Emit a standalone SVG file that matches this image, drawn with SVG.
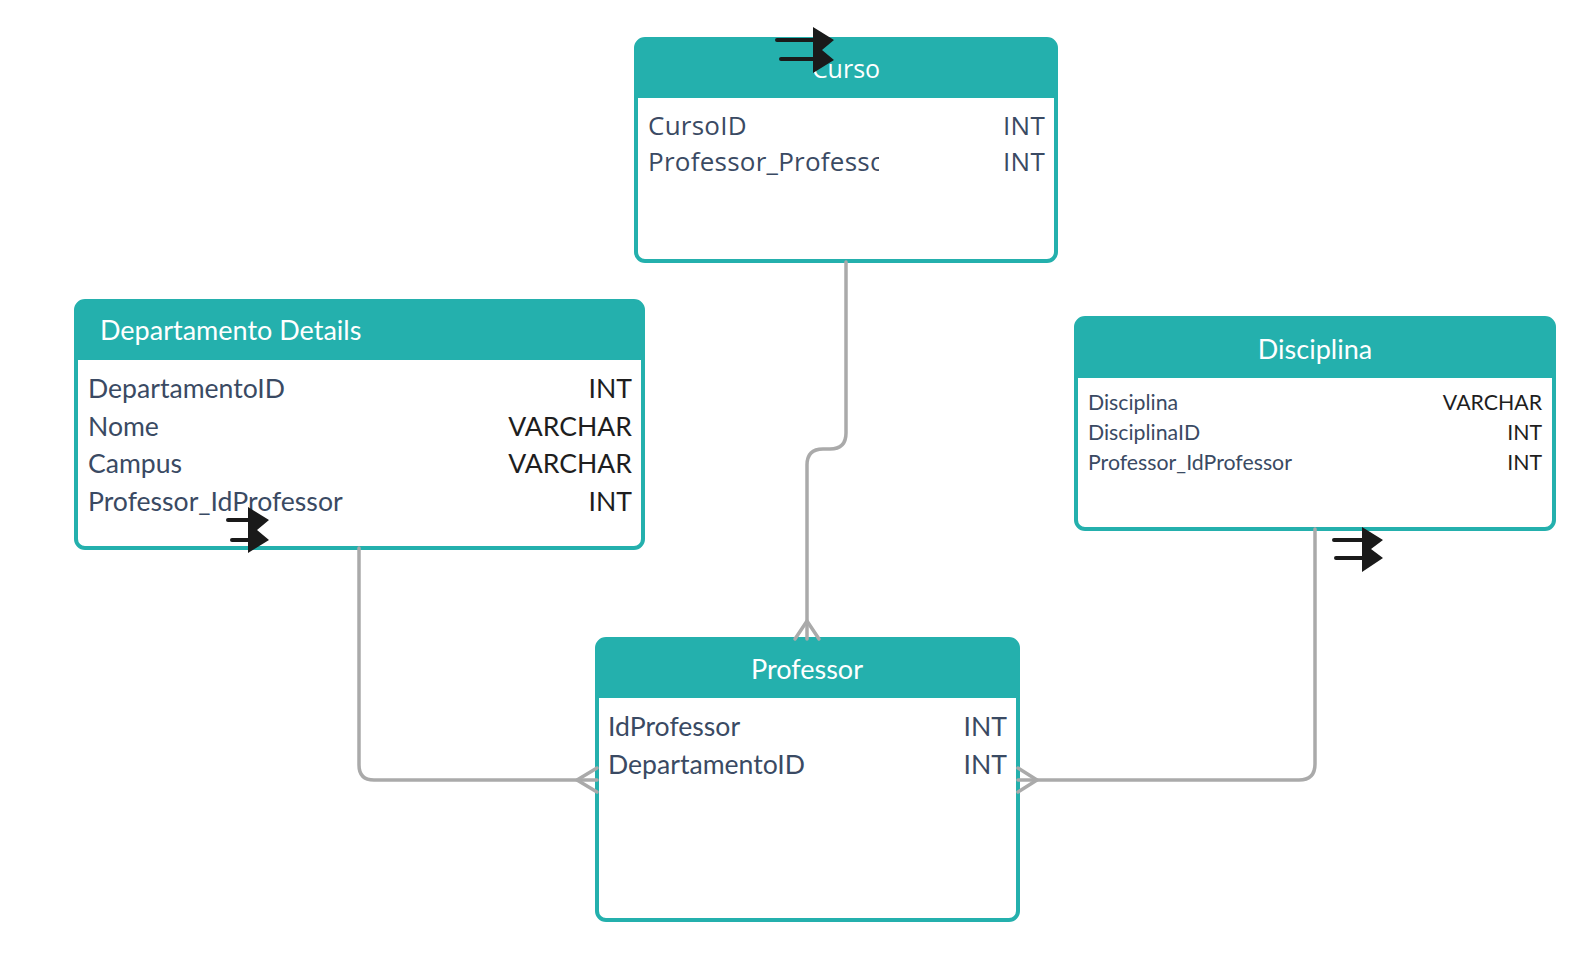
<svg xmlns="http://www.w3.org/2000/svg" width="1594" height="960" viewBox="0 0 1594 960">
<style>
.box{fill:#ffffff;stroke:#24b0ad;stroke-width:4}
.hdr{fill:#24b0ad}
.title{font-family:Lato,"Liberation Sans",sans-serif;font-size:27px;fill:#ffffff}
.f{font-family:Lato,"Liberation Sans",sans-serif;font-size:26.6px;fill:#3a4a63}
.t{font-family:Lato,"Liberation Sans",sans-serif;font-size:26.6px;fill:#1e1e1e;text-anchor:end}
.ts{fill:#3a4a63}
.fs{font-size:21.3px}
.os{font-family:"Open Sans","Noto Sans",sans-serif;font-size:26px;letter-spacing:0.25px}
.ost{font-family:"Open Sans","Noto Sans",sans-serif;font-size:25px}
.conn{fill:none;stroke:#aaaaaa;stroke-width:3.5;stroke-linecap:round;stroke-linejoin:round}
.bl{fill:none;stroke:#1a1a1a;stroke-width:4;stroke-linecap:round}
.bs{fill:#1a1a1a}
</style>
<defs>
<clipPath id="cclip"><rect x="640" y="140" width="239" height="45"/></clipPath>
</defs>
<rect width="1594" height="960" fill="#ffffff"/>

<g id="curso">
<rect class="box" x="636" y="39" width="420" height="222" rx="9"/>
<path class="hdr" d="M636,48 Q636,39 645,39 L1047,39 Q1056,39 1056,48 L1056,98 L636,98 Z"/>
<text class="title ost" x="846" y="78" text-anchor="middle">Curso</text>
<text class="f os" x="648" y="135">CursoID</text>
<text class="t ts os" x="1045" y="135">INT</text>
<text class="f os" x="648" y="171" clip-path="url(#cclip)">Professor_Professor</text>
<text class="t ts os" x="1045" y="171">INT</text>
</g>

<g id="departamento">
<rect class="box" x="76" y="301" width="567" height="247" rx="9"/>
<path class="hdr" d="M76,310 Q76,301 85,301 L634,301 Q643,301 643,310 L643,360 L76,360 Z"/>
<text class="title" x="100" y="340">Departamento Details</text>
<text class="f" x="88" y="398">DepartamentoID</text>
<text class="t" x="632" y="398">INT</text>
<text class="f" x="88" y="436">Nome</text>
<text class="t" x="632" y="436">VARCHAR</text>
<text class="f" x="88" y="473">Campus</text>
<text class="t" x="632" y="473">VARCHAR</text>
<text class="f" x="88" y="511">Professor_IdProfessor</text>
<text class="t" x="632" y="511">INT</text>
</g>

<g id="disciplina">
<rect class="box" x="1076" y="318" width="478" height="211" rx="9"/>
<path class="hdr" d="M1076,327 Q1076,318 1085,318 L1545,318 Q1554,318 1554,327 L1554,378 L1076,378 Z"/>
<text class="title" x="1315" y="359" text-anchor="middle">Disciplina</text>
<text class="f fs" x="1088" y="410">Disciplina</text>
<text class="t fs" x="1542" y="410">VARCHAR</text>
<text class="f fs" x="1088" y="440">DisciplinaID</text>
<text class="t fs" x="1542" y="440">INT</text>
<text class="f fs" x="1088" y="470">Professor_IdProfessor</text>
<text class="t fs" x="1542" y="470">INT</text>
</g>

<g id="professor">
<rect class="box" x="597" y="639" width="421" height="281" rx="9"/>
<path class="hdr" d="M597,648 Q597,639 606,639 L1009,639 Q1018,639 1018,648 L1018,698 L597,698 Z"/>
<text class="title" x="807" y="679" text-anchor="middle">Professor</text>
<text class="f" x="608" y="736">IdProfessor</text>
<text class="t ts" x="1007" y="736">INT</text>
<text class="f" x="608" y="774">DepartamentoID</text>
<text class="t ts" x="1007" y="774">INT</text>
</g>

<g id="connectors">
<path class="conn" d="M846,262 L846,433 Q846,449 830,449 L823,449 Q807,449 807,465 L807,639"/>
<path class="conn" d="M795,639 L807,621 L819,639"/>
<path class="conn" d="M359,548 L359,765 Q359,780 374,780 L597,780"/>
<path class="conn" d="M597,768 L577,780 L597,792"/>
<path class="conn" d="M1315,529 L1315,764 Q1315,780 1299,780 L1018,780"/>
<path class="conn" d="M1018,768 L1037,780 L1018,792"/>

<g id="mark-curso">
<path class="bl" d="M777,40 L820,40 M781,59 L820,59"/>
<polygon class="bs" points="813,27 834,40 822,50 834,60 813,73"/>
</g>
<g id="mark-dep">
<path class="bl" d="M228,520 L255,520 M232,540 L255,540"/>
<polygon class="bs" points="248,507 269,520 257,530 269,540 248,553"/>
</g>
<g id="mark-disc">
<path class="bl" d="M1334,540 L1370,540 M1336,558 L1370,558"/>
<polygon class="bs" points="1362,527 1383,540 1371,549 1383,558 1362,572"/>
</g>
</g>
</svg>
